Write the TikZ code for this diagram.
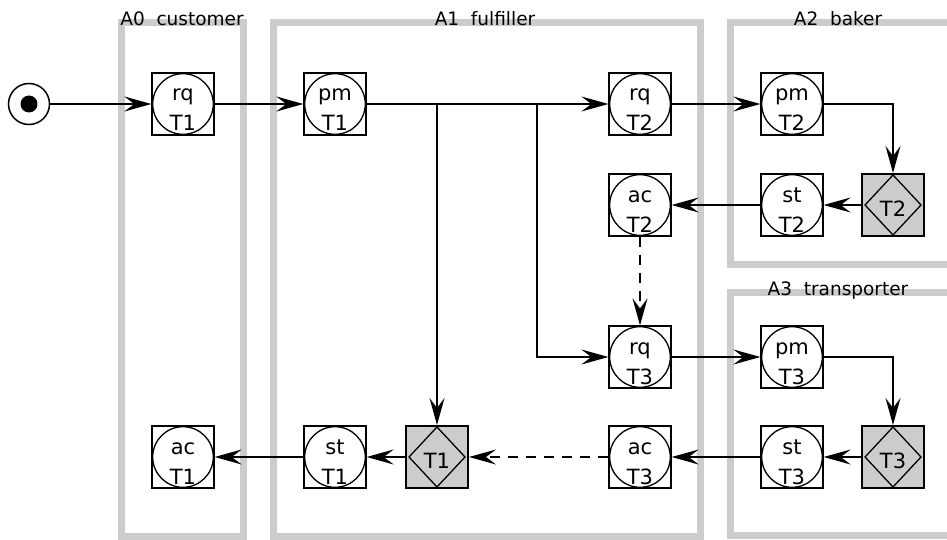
\documentclass[tikz,border=0pt]{standalone}
\usepackage{fontspec}
\setmainfont{DejaVu Sans}
\usetikzlibrary{arrows.meta}
\definecolor{cLane}{HTML}{CCCCCC}
\tikzset{
  lane/.style ={draw=cLane,line width=7pt},
  ttl/.style  ={font=\fontsize{18.5}{22}\selectfont,anchor=base,inner sep=0pt},
  txt/.style  ={font=\fontsize{21}{24}\selectfont,anchor=base,inner sep=0pt},
  trn/.style 2 args={draw,line width=1.3pt,minimum width=62pt,minimum height=62pt,
                inner sep=0pt,
                path picture={\draw[line width=1.3pt]
                  (path picture bounding box.center) circle (30.3pt);
                  \node[txt] at ([yshift=3pt]path picture bounding box.center) {#1};
                  \node[txt] at ([yshift=-27pt]path picture bounding box.center) {#2};}},
  exe/.style  ={draw,fill=cLane,line width=2pt,minimum width=62pt,
                minimum height=62pt,inner sep=0pt,font=\fontsize{21}{24}\selectfont,
                text height=23pt,text depth=0pt,
                path picture={\draw[line width=1.3pt]
                  ([xshift=3pt]path picture bounding box.west)
                  -- ([yshift=-1pt]path picture bounding box.north)
                  -- ([xshift=-3pt]path picture bounding box.east)
                  -- ([yshift=1pt]path picture bounding box.south) -- cycle;}},
  lnk/.style  ={-{Stealth[length=27pt,width=15pt,inset=10pt]},line width=1.5pt},
  wlnk/.style ={lnk,dash pattern=on 10pt off 8pt},
}

\begin{document}
\begin{tikzpicture}[x=1pt,y=-1pt]
\clip (0,0) rectangle (947,540);
\fill[white] (0,0) rectangle (947,540);

\def\ya{104}   % request row
\def\yb{205}   % baker return row
\def\yc{357}   % transport row
\def\yd{457}   % result row

% ===== actor lanes ======================================================
\draw[lane] (121.5,22.5) rectangle (243.5,536.5);
\draw[lane] (273.5,22.5) rectangle (700,536.5);
\draw[lane] (730,22.5)   rectangle (960,264);
\draw[lane] (730,292.5)  rectangle (960,535.5);
\node[ttl] (l0) at (182,26)  {A0\ \ customer};
\node[ttl] (l1) at (485,26)  {A1\ \ fulfiller};
\node[ttl] (l2) at (838,26)  {A2\ \ baker};
\node[ttl] (l3) at (838,295) {A3\ \ transporter};

% ===== initial state ====================================================
\node[draw,circle,line width=1.5pt,minimum size=41pt,inner sep=0pt,
      path picture={\fill (path picture bounding box.center) circle (8.5pt);}]
  (start) at (29,\ya) {};

% ===== transaction steps ================================================
\node[trn={rq}{T1}] (rq1) at (183,\ya) {};
\node[trn={pm}{T1}] (pm1) at (335,\ya) {};
\node[trn={rq}{T2}] (rq2) at (640,\ya) {};
\node[trn={pm}{T2}] (pm2) at (792,\ya) {};
\node[trn={ac}{T2}] (ac2) at (640,\yb) {};
\node[trn={st}{T2}] (st2) at (792,\yb) {};
\node[trn={rq}{T3}] (rq3) at (640,\yc) {};
\node[trn={pm}{T3}] (pm3) at (792,\yc) {};
\node[trn={ac}{T1}] (ac1) at (183,\yd) {};
\node[trn={st}{T1}] (st1) at (335,\yd) {};
\node[trn={ac}{T3}] (ac3) at (640,\yd) {};
\node[trn={st}{T3}] (st3) at (792,\yd) {};

% ===== executions =======================================================
\node[exe] (x1) at (437,\yd) {T1};
\node[exe] (x2) at (893,\yb) {T2};
\node[exe] (x3) at (893,\yd) {T3};

% ===== links ============================================================
\draw[lnk] (start) -- (rq1.west);
\draw[lnk] (rq1.east) -- (pm1.west);
\draw[lnk] (pm1.east) -- (rq2.west);
\draw[lnk] (x1.north |- pm1.east) -- (x1.north);
\draw[lnk] (537,\ya) |- (rq3.west);
\draw[lnk] (rq2.east) -- (pm2.west);
\draw[lnk] (pm2.east) -| (x2.north);
\draw[lnk] (x2.west) -- (st2.east);
\draw[lnk] (st2.west) -- (ac2.east);
\draw[wlnk] (ac2.south) -- (rq3.north);
\draw[lnk] (rq3.east) -- (pm3.west);
\draw[lnk] (pm3.east) -| (x3.north);
\draw[lnk] (x3.west) -- (st3.east);
\draw[lnk] (st3.west) -- (ac3.east);
\draw[wlnk] (ac3.west) -- (x1.east);
\draw[lnk] (x1.west) -- (st1.east);
\draw[lnk] (st1.west) -- (ac1.east);
\end{tikzpicture}
\end{document}
